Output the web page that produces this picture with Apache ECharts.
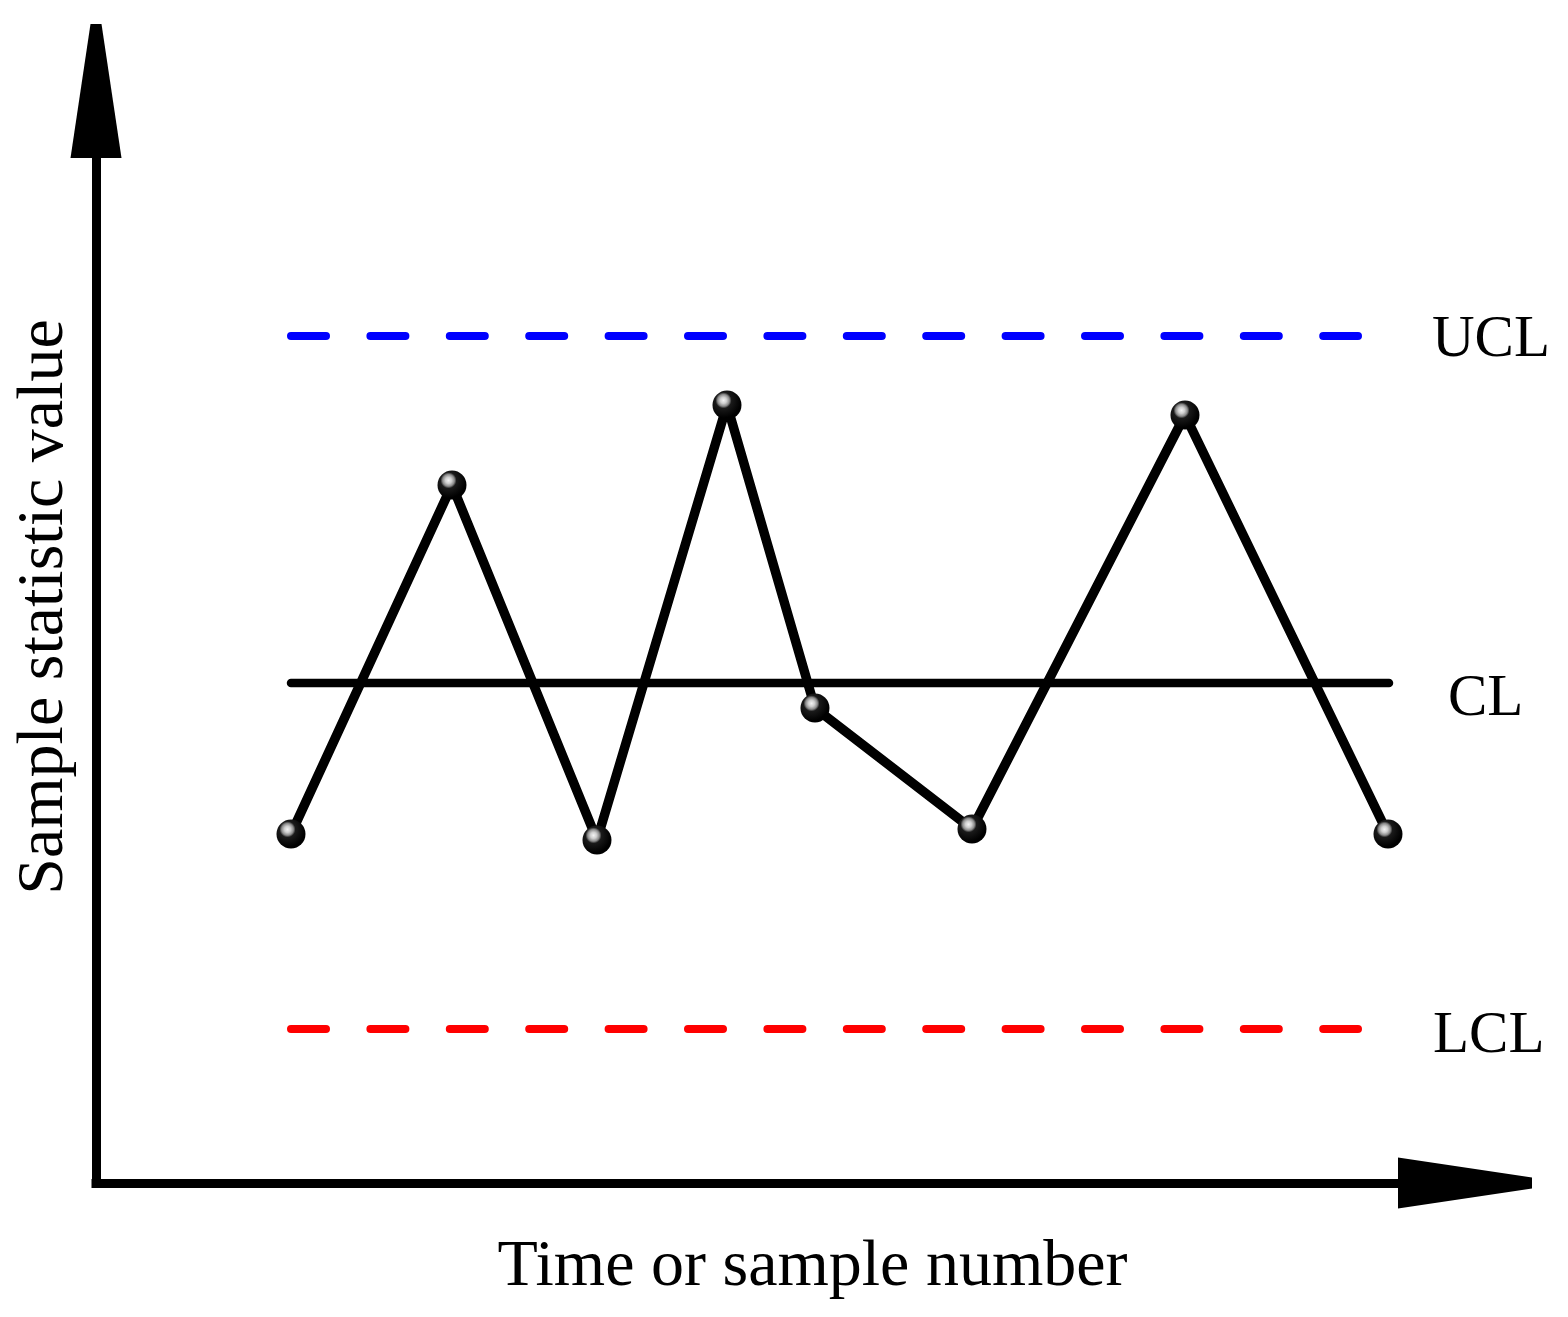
<!DOCTYPE html>
<html>
<head>
<meta charset="utf-8">
<script src="https://cdn.jsdelivr.net/npm/echarts@6/dist/echarts.min.js"></script>
<style>
    html, body { margin: 0; padding: 0; background: #fff; }
    #chart { width: 1568px; height: 1317px; }
</style>
</head>
<body>
<div id="chart"></div>
<script>
    'use strict'

    // sample positions and statistic values
    var sampleX = [1.95, 3.56, 5.01, 6.31, 7.19, 8.76, 10.89, 12.92];
    var sampleY = [3.49, 6.98, 3.43, 7.78, 4.75, 3.54, 7.68, 3.49];

    // control limits
    var limitNames = ['UCL', 'CL', 'LCL'];
    var limitValues = [8.47, 5.00, 1.54];
    var limitStart = [1.95, 1.95, 1.95];
    var limitEnd = [12.62, 12.93, 12.62];

    var xTitle = 'Time or sample number';
    var yTitle = 'Sample statistic value';

    var FONT = '"Liberation Serif", "DejaVu Serif", serif';
    var ARROW = 'path://M20,0 L31,0 L51,134 L0,134 Z';

    var limitStyles = {
        UCL: { color: '#0000ff', type: [35, 44.4], width: 8, offset: [74, 4] },
        CL: { color: '#000000', type: 'solid', width: 8.5, offset: [59, 16] },
        LCL: { color: '#ff0000', type: [35, 44.4], width: 8, offset: [75, 7] }
    };

    function _axisLine() {
        return {
            show: true,
            symbol: ['none', ARROW],
            symbolSize: [51, 134],
            lineStyle: { color: '#000', width: 9, cap: 'square' }
        };
    }

    function _limitSeries(i) {
        var name = limitNames[i];
        var st = limitStyles[name];
        return {
            name: name,
            type: 'line',
            data: [[limitStart[i], limitValues[i]], [limitEnd[i], limitValues[i]]],
            showSymbol: false,
            symbol: 'none',
            silent: true,
            z: 1,
            lineStyle: { color: st.color, width: st.width, type: st.type, cap: 'round' },
            endLabel: {
                show: true,
                formatter: name,
                color: '#000',
                fontFamily: FONT,
                fontSize: 59,
                align: 'left',
                verticalAlign: 'middle',
                distance: 0,
                offset: st.offset
            }
        };
    }

    var ball = new echarts.graphic.RadialGradient(0.38, 0.34, 0.6, [
        { offset: 0, color: '#f4f4f4' },
        { offset: 0.18, color: '#cfcfcf' },
        { offset: 0.34, color: '#8a8a8a' },
        { offset: 0.46, color: '#1a1a1a' },
        { offset: 1, color: '#000000' }
    ]);

    var series = [];
    for (var i = 0; i < limitNames.length; i++) {
        series.push(_limitSeries(i));
    }
    series.push({
        name: 'sample',
        type: 'line',
        data: sampleX.map(function(x, k) { return [x, sampleY[k]]; }),
        symbol: 'circle',
        symbolSize: 29,
        showSymbol: true,
        z: 3,
        lineStyle: { color: '#000', width: 9.5, join: 'round' },
        itemStyle: { color: ball, borderWidth: 0 }
    });

    var chart = echarts.init(document.getElementById('chart'));
    chart.setOption({
        animation: false,
        backgroundColor: '#fff',
        grid: { left: 96, right: 103, top: 91, bottom: 134, containLabel: false },
        xAxis: {
            type: 'value',
            min: 0,
            max: 13.69,
            name: xTitle,
            nameLocation: 'middle',
            nameGap: 52,
            nameTextStyle: { fontFamily: FONT, fontSize: 66, color: '#000', padding: [0, 0, 0, 64] },
            axisLine: _axisLine(),
            axisTick: { show: false },
            axisLabel: { show: false },
            splitLine: { show: false }
        },
        yAxis: {
            type: 'value',
            min: 0,
            max: 10.92,
            name: yTitle,
            nameLocation: 'middle',
            nameGap: 18,
            nameTextStyle: { fontFamily: FONT, fontSize: 66, color: '#000', padding: [0, 0, 0, 60] },
            axisLine: _axisLine(),
            axisTick: { show: false },
            axisLabel: { show: false },
            splitLine: { show: false }
        },
        series: series
    });
</script>
</body>
</html>
